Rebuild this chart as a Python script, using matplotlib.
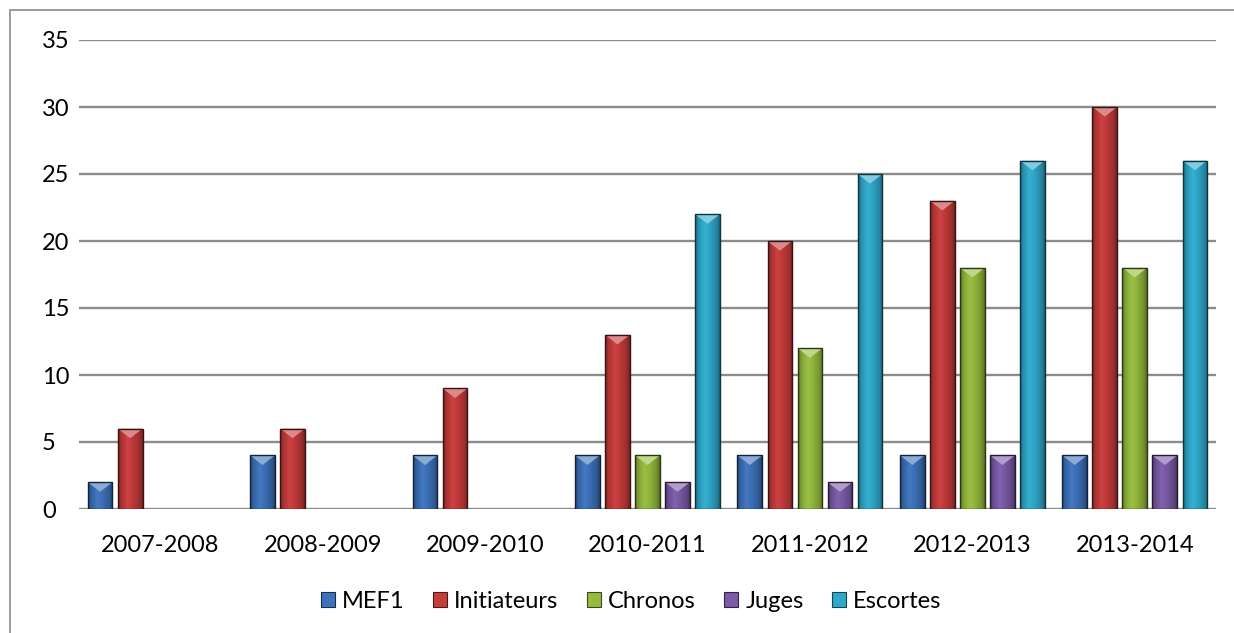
import matplotlib
matplotlib.use("Agg")
import matplotlib.pyplot as plt
import numpy as np
from matplotlib.patches import Polygon, Rectangle, Patch
from matplotlib.colors import to_rgb

categories = ["2007-2008", "2008-2009", "2009-2010", "2010-2011", "2011-2012", "2012-2013", "2013-2014"]
series_names = ["MEF1", "Initiateurs", "Chronos", "Juges", "Escortes"]
mef1 = [2, 4, 4, 4, 4, 4, 4]
initiateurs = [6, 6, 9, 13, 20, 23, 30]
chronos = [0, 0, 0, 4, 12, 18, 18]
juges = [0, 0, 0, 2, 2, 4, 4]
escortes = [0, 0, 0, 22, 25, 26, 26]
yticks = [0, 5, 10, 15, 20, 25, 30, 35]

colors = ["#3d72bb", "#c63b3b", "#95ba3e", "#7b5ba8", "#2fa9cb"]
series = [mef1, initiateurs, chronos, juges, escortes]

plt.rcParams['font.family'] = ['Lato', 'DejaVu Sans']

fig = plt.figure(figsize=(12.34, 6.33), dpi=100)
ax = fig.add_axes([79/1234, 1 - 509/633, (1216-79)/1234, (509-40)/633])

def shade(c, f):
    r = np.array(to_rgb(c))
    if f < 1:
        return tuple(r * f)
    return tuple(r + (1 - r) * (f - 1))

# horizontal gradient profile across a bar
tpos = np.array([0.0, 0.12, 0.38, 0.62, 0.88, 1.0])
fval = np.array([0.62, 0.85, 1.05, 0.95, 0.78, 0.6])
tt = np.linspace(0, 1, 40)
prof = np.interp(tt, tpos, fval)

x = np.arange(len(categories))
step = 0.185
width = 0.152
bevel = 0.72  # in data units (y)

for i, (vals, col) in enumerate(zip(series, colors)):
    xs = x + (i - 2) * step
    grad = np.array([[shade(col, f) for f in prof]])
    for xc, v in zip(xs, vals):
        if v <= 0:
            continue
        bars = ax.bar(xc, v, width=width, color=col, edgecolor='none', linewidth=0, zorder=3)
        rect = bars[0]
        im = ax.imshow(grad, extent=(xc - width / 2, xc + width / 2, 0, v), aspect='auto',
                       interpolation='bilinear', zorder=3.1)
        im.set_clip_path(rect)
        ax.bar(xc, v, width=width, fill=False, edgecolor=shade(col, 0.3), linewidth=1.0, zorder=3.4)
        tri = Polygon([[xc - width / 2, v], [xc + width / 2, v], [xc, v - bevel]],
                      closed=True, facecolor=shade(col, 1.4), edgecolor='none', zorder=3.3)
        ax.add_patch(tri)

ax.set_xlim(-0.5, len(categories) - 0.5)
ax.set_ylim(0, 35)
ax.set_yticks(yticks)
ax.set_yticklabels([str(t) for t in yticks])
ax.set_xticks(x)
ax.set_xticklabels(categories)
ax.yaxis.grid(True, color="#8c8c8c", linewidth=1.7, zorder=0)
ax.set_axisbelow(True)
for s in ax.spines.values():
    s.set_visible(False)
ax.tick_params(axis='both', length=0, labelsize=17, colors="#000000")
ax.tick_params(axis='x', pad=19)
ax.yaxis.set_tick_params(pad=0)
for lab in ax.get_yticklabels():
    lab.set_horizontalalignment('left')
    lab.set_transform(lab.get_transform() + matplotlib.transforms.ScaledTranslation(-37/100, 0, fig.dpi_scale_trans))

handles = [Patch(facecolor=c, edgecolor=shade(c, 0.4), linewidth=0.8) for c in colors]
leg = fig.legend(handles, series_names, loc='center', bbox_to_anchor=(631/1234, 1 - 601/633),
                 ncol=5, frameon=False, fontsize=17, handlelength=0.6, handleheight=0.6,
                 handletextpad=0.3, columnspacing=1.2)

fig.patches.append(Rectangle((10/1234, -0.1), 1.2, 0.1 + 1 - 10/633, transform=fig.transFigure,
                             fill=False, edgecolor="#8a8a8a", linewidth=1.2))

fig.savefig("out.png", dpi=100)
